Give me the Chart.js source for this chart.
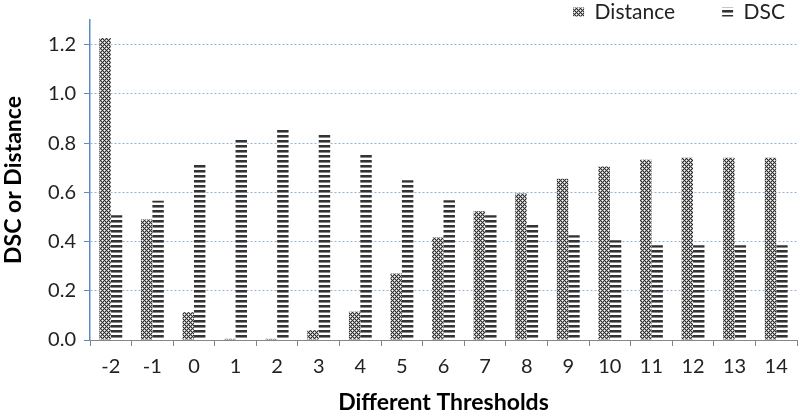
<!DOCTYPE html>
<html>
<head>
<meta charset="utf-8">
<script src="https://cdn.jsdelivr.net/npm/chart.js@4.4.1/dist/chart.umd.min.js"></script>
<style>
    html, body { margin: 0; padding: 0; background: #fff; }
</style>
</head>
<body>
<canvas id="thresholdChart" width="800" height="416"></canvas>
<script>
const thresholds = ["-2", "-1", "0", "1", "2", "3", "4", "5", "6", "7", "8", "9", "10", "11", "12", "13", "14"];
const distanceValues = [1.227, 0.49, 0.113, 0.005, 0.005, 0.04, 0.115, 0.27, 0.416, 0.523, 0.595, 0.655, 0.705, 0.732, 0.74, 0.74, 0.74];
const dscValues = [0.507, 0.566, 0.713, 0.817, 0.857, 0.837, 0.752, 0.649, 0.568, 0.507, 0.467, 0.426, 0.405, 0.385, 0.385, 0.385, 0.385];

const FONT = "Lato, 'Open Sans', sans-serif";

// fill patterns: cross hatch for Distance, horizontal stripes for DSC
function crossHatch() {
    const c = document.createElement("canvas");
    c.width = 4;
    c.height = 4;
    const g = c.getContext("2d");
    g.fillStyle = "#fff";
    g.fillRect(0, 0, 4, 4);
    for (let x = 0; x < 4; x++) {
        for (let y = 0; y < 4; y++) {
            if ((x + y) % 4 === 0 || (x - y + 4) % 4 === 0) {
                g.fillStyle = "#2e2e2e";
                g.fillRect(x, y, 1, 1);
            } else if ((x + y) % 2 === 1) {
                g.fillStyle = "#a8a8a8";
                g.fillRect(x, y, 1, 1);
            }
        }
    }
    return g.createPattern(c, "repeat");
}

function hStripes() {
    const c = document.createElement("canvas");
    c.width = 4;
    c.height = 5;
    const g = c.getContext("2d");
    g.fillStyle = "#fff";
    g.fillRect(0, 0, 4, 5);
    g.fillStyle = "#333";
    g.fillRect(0, 0, 4, 2);
    g.fillStyle = "#8a8a8a";
    g.fillRect(0, 2, 4, 1);
    return g.createPattern(c, "repeat");
}

// move the legend into the top strip, over the plot, like the original
const legendSpot = {
    id: "legendSpot",
    beforeDraw(chart) {
        const lg = chart.legend;
        const pad = lg.options.labels.padding;
        const size = lg.options.labels.font.size;
        lg.top = 12 - pad - size / 2;
        lg.bottom = lg.top + 2 * pad + size + 4;
        lg.right = 785 + pad;
    },
};

const ctx = document.getElementById("thresholdChart").getContext("2d");

const thresholdChart = new Chart(ctx, {
    type: "bar",
    data: {
        labels: thresholds,
        datasets: [
            {
                label: "Distance",
                data: distanceValues,
                backgroundColor: crossHatch(),
                borderWidth: 0,
            },
            {
                label: "DSC",
                data: dscValues,
                backgroundColor: hStripes(),
                borderWidth: 0,
            },
        ],
    },
    options: {
        responsive: false,
        animation: false,
        layout: { padding: { top: 12, right: 3, left: 0, bottom: 0 } },
        datasets: {
            bar: { barPercentage: 1.0, categoryPercentage: 0.55 },
        },
        plugins: {
            tooltip: { enabled: false },
            legend: {
                position: "top",
                align: "end",
                maxHeight: 1,
                labels: {
                    boxWidth: 11,
                    boxHeight: 9,
                    padding: 47,
                    color: "#222",
                    font: { family: FONT, size: 21 },
                },
            },
        },
        scales: {
            x: {
                afterFit(scale) { scale.height = 76; },
                border: { color: "#868686", width: 1 },
                grid: {
                    offset: true,
                    drawOnChartArea: false,
                    drawTicks: true,
                    tickLength: 6,
                    tickColor: "#868686",
                },
                ticks: {
                    padding: 9,
                    color: "#222",
                    font: { family: FONT, size: 20 },
                },
                title: {
                    display: true,
                    text: "Different Thresholds",
                    color: "#000",
                    font: { family: FONT, size: 23, weight: "bold" },
                    padding: { top: 0, bottom: 0 },
                },
            },
            y: {
                min: 0,
                // axis runs a little past the last labelled tick
                max: 1.3,
                afterFit(scale) { scale.width = 90; },
                border: { color: "#5b8cc6", width: 1.5, dash: [2, 2] },
                grid: {
                    color: (c) => (c.tick && c.tick.value === 0 ? "rgba(0,0,0,0)" : "#94b3d8"),
                    lineWidth: 1,
                    tickLength: 6,
                    tickColor: "#5b8cc6",
                    tickBorderDash: [],
                },
                ticks: {
                    stepSize: 0.2,
                    includeBounds: false,
                    padding: 8,
                    color: "#222",
                    font: { family: FONT, size: 20 },
                    callback: (v) => Number(v).toFixed(1),
                },
                title: {
                    display: true,
                    text: "DSC or Distance",
                    color: "#000",
                    font: { family: FONT, size: 23, weight: "bold" },
                    padding: { top: 0, bottom: 0 },
                },
            },
        },
    },
    plugins: [legendSpot],
});
</script>
</body>
</html>
